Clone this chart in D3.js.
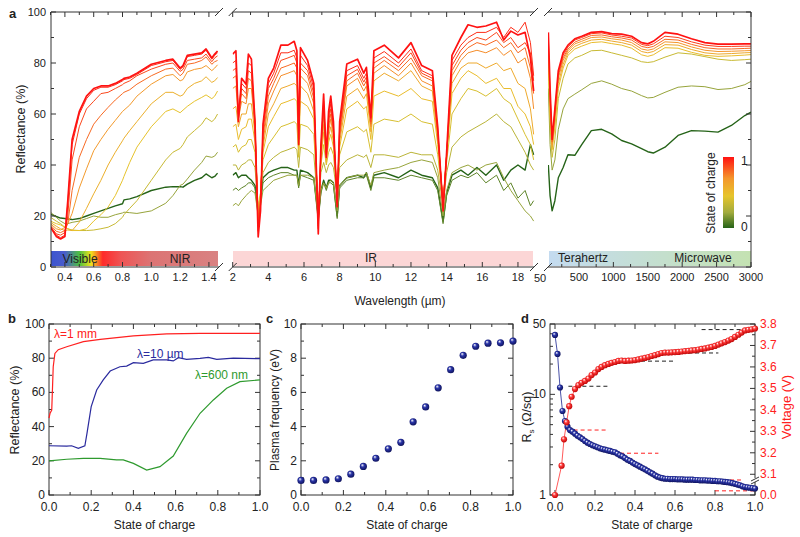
<!DOCTYPE html>
<html><head><meta charset="utf-8">
<script src="https://cdn.jsdelivr.net/npm/d3@7"></script>
<style>body{margin:0;background:#fff} text{font-family:"Liberation Sans",Arial,sans-serif;fill:#222}</style>
</head><body><svg id="c" width="800" height="537"></svg>
<script>
// ---------------- DATA ----------------
// Panel a: visible / NIR (wavelength in µm, reflectance in %)
const visWl = [0.30,0.34,0.37,0.40,0.42,0.45,0.50,0.55,0.60,0.65,0.70,0.75,0.80,0.81,0.85,0.90,1.00,1.10,1.15,1.20,1.22,1.25,1.30,1.35,1.38,1.42,1.44,1.46];
const visSoc = [0, 0.2, 0.35, 0.46, 0.56, 0.68, 0.8, 0.88, 0.95, 1];
const visR = [
 [20.8,19.8,19.2,19,18.8,18.6,19,20,21,22,23,24,24.8,26.3,26.7,27.6,30,31.3,31.5,31.5,31.3,32.5,34,35,36.5,35,35.5,36.8],
 [21.5,19.5,18,17,17,17.5,18,19,20,19.5,19.5,20.5,21.2,21.5,21.3,21,22,25,28,32,32.5,34.5,38,41,43.5,43,43.5,45],
 [19.5,18,17,15.6,15,14.5,14.3,14.3,14.5,15,15.6,17,19.5,20.5,23,26,34,42,45,46.5,48,51,53.5,56,58.5,57,58,60],
 [18,17,16.5,15.6,15,14.3,14.3,15,18,20.5,23.5,28,34,35.5,41,47,55,61,62,60.5,61.5,63,65,66.5,67.5,66,67,69],
 [17.5,16,15,14.3,14.5,14.3,17.6,23,28.7,34,40,45,49.5,50.5,53.5,57,64,68.5,68.5,67,67.5,70,72,73,74.6,72.4,73,74.3],
 [17,15,14.5,15.6,17,21,31,38.5,45.6,50,54,57.5,61,61.5,63.5,67,71.7,75,75.5,73,73.5,76.5,77.5,78,79,77,78,79.3],
 [16.5,14,13.5,14.3,17,30,43,50,56,59.5,62.6,65.5,68,68.5,69.5,71.7,75,77.6,78,75,76,79.5,80,81,82.4,79.5,80.5,81],
 [16,13,12.5,13.5,20,42,55,62,65,68,68.5,70,71.5,72,73,75,77.6,79.5,80,76.7,77.5,81,81.5,82,83.5,80.5,82,82.8],
 [15.5,12.5,11.5,12.5,25,48,60,66,69.3,70.5,70.5,71.5,73,73.5,74,75.5,79,80.5,81,77.5,78.5,82.5,83,83.5,85,81.5,83,84],
 [15.6,12,11,12,26,50,61,67,70,71,71,72,73.5,74,74.5,76,79.5,81,81.5,78,79,83,83.5,84,85.5,82,83.5,84.7]
];
// Panel a: IR (µm)
const irWl = [2.0,2.18,2.32,2.5,2.75,2.88,3.05,3.25,3.43,3.56,3.7,4.0,4.3,4.7,5.1,5.45,5.6,5.7,5.8,6.2,6.55,6.8,6.95,7.1,7.25,7.38,7.5,7.65,7.86,8.0,8.4,9.0,9.35,9.5,9.75,9.92,10.5,11.3,12.0,12.6,13.2,13.5,13.8,14.0,14.3,14.8,15.2,15.7,16.2,16.8,17.2,17.6,18.0,18.4,18.7,18.88];
const irSoc = [0, 0.1, 0.2, 0.3, 0.4, 0.5, 0.6, 0.72, 0.8, 0.88, 0.94, 1];
const irR = [
 [36,37,35,36,36,35,34,32,22,26,35,37,38,39,39,38,38,32,38,37,35,20,30,34,31,34,34,33,20,32,35,36,35,37,31,36,37,35,38,36,35,31,18,29,36,38,36,39,36,40,34,38,40,38,48,44],
 [30,31,30,31,32,33,33,31,20,25,33,35,36,37,37,36,36,31,36,35,34,18,29,33,30,33,33,32,19,31,34,35,35,36,30,35,35,34,36,35,34,30,17,28,34,36,35,37,33,36,30,33,27,30,24,26],
 [24,25,24,26,28,29,30,29,20,24,30,32,34,35,36,36,36,32,36,36,35,20,30,33,31,33,34,33,22,32,35,36,36,37,32,37,38,39,41,42,41,35,20,30,37,39,40,38,40,41,35,30,26,22,20,18],
 [40,40,38,40,41,42,42,39,23,28,37,41,43,45,46,47,46,39,47,46,44,22,37,41,37,40,41,39,28,39,42,44,43,44,39,44,44,43,45,44,44,38,24,37,47,51,53,55,57,60,57,55,50,45,40,38],
 [47,48,45,47,48,50,50,45,23,29,42,48,51,55,56,57,56,43,56,55,52,21,40,48,40,45,47,44,28,44,53,55,53,54,45,56,58,57,60,57,56,44,25,41,60,66,70,69,67,70,66,64,58,52,48,42],
 [55,56,50,54,55,58,58,49,22,29,45,55,59,64,65,66,65,46,65,63,58,20,42,53,41,49,52,47,28,47,62,65,62,63,50,67,69,67,70,66,65,48,25,43,68,74,77,75,72,74,70,70,63,60,55,48],
 [62,63,55,60,60,64,64,52,21,28,47,60,64,70,71,72,71,48,71,68,61,19,43,56,42,51,55,49,28,49,67,70,66,68,53,73,76,73,77,71,69,50,25,44,72,78,80,80,78,80,77,78,72,70,62,52],
 [70,71,58,65,64,70,70,54,19,27,49,64,69,75,76,77,75,49,75,72,64,18,44,59,43,53,58,51,28,51,71,74,69,71,55,76,79,75,80,73,71,51,25,44,75,81,84,85,84,86,83,85,80,82,74,62],
 [74,75,59,68,66,74,73,55,18,26,51,67,72,78,79,80,78,50,78,75,66,17,45,61,44,55,60,53,27,52,73,76,71,73,56,78,81,77,82,75,73,52,25,44,77,83,86,88,87,89,86,88,84,86,78,68],
 [77,78,60,70,68,77,76,56,16,25,53,70,74,81,82,83,80,50,80,77,68,16,46,63,44,57,62,54,26,54,75,77.5,72.5,74.5,57,80,82.5,78.5,84,76,74,53,24,44,79,85,88,90,89,92,88,90,86,88,84,73],
 [80,81,60,72,70,80,79,57,14,24,55,72,76,84,84,85,82,50,83,79,70,15,47,65,44,59,64,55,25,55,77,79,74,76,58,82,84.5,80,85.5,77,75,54,23,44,81,87,90,92,92,94,90,94,92,96,88,75],
 [83.5,84.8,57,74,71.7,83.5,81.5,57,11.8,22,56,74,78,87,87,88.5,84.8,48,86,81,72,13,48,67.8,43,61,67,57,23.6,57,79.6,81.5,76,78.3,58.7,84.8,87,82,88,79,77,55,22,45,83,90,95,94,94.5,96,89,92.5,91,92,82,69]
];
// Panel a: terahertz / microwave
const thzF = [55,80,110,150,200,270,340,440,540,680,830,975,1120,1265,1410,1500,1580,1750,1940,2135,2330,2520,2715,2910,3000];
const thzSoc = [0, 0.2, 0.35, 0.5, 0.6, 0.7, 0.8, 0.9, 1];
const thzR = [
 [40,28,22,26,35,39,44,43.8,48,53.5,54,52.2,49.6,48.3,46.4,45.2,44.7,47,51.6,53.5,53.3,52.9,55.5,59.4,60.7],
 [70,48,38,42,54,62,66,67.8,69.5,72,73,71.7,70,69,67.2,66.3,66.5,68.5,70.5,71,70.7,69.6,70,71.5,72.8],
 [78,55,43,50,66,74,79.6,82,83,84.8,85,84,83,82,80.5,80.2,80.5,82.3,84,83.5,82.5,81.5,81,81.3,81.5],
 [82,60,46,55,70,78,83,85.5,86.6,88,88.3,87.6,87,85.8,83.2,82.6,83.2,86,85.8,84.2,83,82.6,82.8,83.1,83.3],
 [84,62,47,57,72,79.5,84,86.5,87.7,89,89.3,88.6,88,87,84.5,84,84.5,87.2,87,85.3,84,83.5,83.7,84,84.1],
 [86,64,48,59,74,81,84.8,87.5,88.5,90,90.2,89.5,89,88,85.5,85,85.5,88.3,88,86.3,85,84.5,84.6,84.8,84.9],
 [88,66,49,60,75,82,85.5,88.2,89.3,90.8,91,90.3,89.8,89,86.5,86,86.5,89.3,89,87.3,86,85.5,85.5,85.7,85.8],
 [90,68,50,61,76,83,86.3,89,90,91.5,91.8,91,90.5,89.8,87.3,86.8,87.5,90.5,90,88.3,87,86.5,86.5,86.6,86.6],
 [92,70,50,62,77,84,87,89.5,90.5,92,92.3,91.5,91.3,90.5,88,87.5,88.5,92,91.3,89.5,88,87.4,87.4,87.5,87.5]
];
const visTicks = [0.4,0.6,0.8,1.0,1.2,1.4];
const irTicks = [2,4,6,8,10,12,14,16,18];
const thzTicks = [500,1000,1500,2000,2500,3000];

// Panel b
const bRedSoc = [0,0.005,0.013,0.02,0.028,0.044,0.084,0.163,0.243,0.4,0.558,0.716,1.0];
const bRed = [45,47.8,49.7,75,82.8,85,86.7,89.7,91,93,94.2,94.5,94.5];
const bBlueSoc = [0,0.084,0.107,0.139,0.17,0.18,0.2,0.226,0.257,0.29,0.336,0.368,0.4,0.447,0.494,0.558,0.589,0.613,0.652,0.716,0.755,0.795,0.874,1.0];
const bBlue = [28.8,28.6,28.8,27.3,28.8,36,51.7,61.4,67.3,72.5,75,75.4,77.4,77,79,79,78.4,80.3,79.3,79.9,80.5,79.3,80.1,79.7];
const bGreenSoc = [0,0.084,0.163,0.242,0.32,0.352,0.4,0.463,0.526,0.589,0.652,0.716,0.779,0.842,0.905,1.0];
const bGreen = [20,20.9,21.4,21.4,20.5,20.5,18.5,14.6,16.6,22.8,36,47.8,55.6,62.4,66.3,67.3];

// Panel c
const cSoc = [0,0.059,0.118,0.176,0.235,0.294,0.353,0.412,0.471,0.529,0.588,0.647,0.706,0.765,0.824,0.882,0.941,1.0];
const cPlasma = [0.85,0.85,0.88,0.95,1.22,1.67,2.15,2.7,3.08,4.28,5.15,6.27,7.33,8.17,8.7,8.88,8.9,9.0];

// Panel d
const dSoc = [0,0.0125,0.025,0.0375,0.05,0.0625,0.075,0.0875,0.1,0.1125,0.125,0.1375,0.15,0.1625,0.175,0.1875,0.2,0.2125,0.225,0.2375,0.25,0.2625,0.275,0.2875,0.3,0.3125,0.325,0.3375,0.35,0.3625,0.375,0.3875,0.4,0.4125,0.425,0.4375,0.45,0.4625,0.475,0.4875,0.5,0.5125,0.525,0.5375,0.55,0.5625,0.575,0.5875,0.6,0.6125,0.625,0.6375,0.65,0.6625,0.675,0.6875,0.7,0.7125,0.725,0.7375,0.75,0.7625,0.775,0.7875,0.8,0.8125,0.825,0.8375,0.85,0.8625,0.875,0.8875,0.9,0.9125,0.925,0.9375,0.95,0.9625,0.975,0.9875,1.0];
const dRs = [38.9,25.2,11.7,6.83,5.43,4.77,4.42,4.26,4.07,3.88,3.74,3.60,3.44,3.31,3.21,3.12,3.05,2.98,2.91,2.86,2.82,2.78,2.74,2.69,2.66,2.57,2.48,2.42,2.33,2.24,2.18,2.10,2.03,1.97,1.91,1.85,1.80,1.74,1.68,1.63,1.57,1.52,1.49,1.47,1.45,1.45,1.44,1.44,1.44,1.43,1.43,1.43,1.42,1.42,1.42,1.42,1.41,1.41,1.40,1.40,1.40,1.39,1.39,1.38,1.38,1.37,1.37,1.36,1.35,1.34,1.33,1.31,1.29,1.27,1.25,1.22,1.20,1.19,1.18,1.17,1.16];
const dVSoc = [0,0.033,0.045,0.058,0.071,0.083,0.100,0.117,0.133,0.150,0.167,0.183,0.200,0.217,0.233,0.250,0.267,0.283,0.300,0.317,0.333,0.350,0.367,0.383,0.400,0.417,0.433,0.450,0.467,0.483,0.500,0.517,0.533,0.550,0.567,0.583,0.600,0.617,0.633,0.650,0.667,0.683,0.700,0.717,0.733,0.750,0.767,0.783,0.800,0.817,0.833,0.850,0.867,0.883,0.900,0.917,0.933,0.950,0.967,0.983,1.000];
const dVolt = [0.0,3.14,3.263,3.342,3.417,3.461,3.497,3.515,3.526,3.535,3.546,3.562,3.574,3.590,3.600,3.608,3.614,3.619,3.623,3.628,3.630,3.628,3.629,3.630,3.632,3.635,3.639,3.642,3.646,3.651,3.655,3.660,3.665,3.667,3.667,3.668,3.669,3.670,3.672,3.674,3.675,3.677,3.678,3.681,3.684,3.686,3.690,3.693,3.698,3.704,3.710,3.716,3.723,3.730,3.740,3.750,3.760,3.770,3.773,3.775,3.779];
const vPlatStart = [0.067,0.325,0.525,0.733];
const vPlatEnd = [0.267,0.6,0.817,1.0];
const vPlatLevel = [3.51,3.627,3.665,3.774];
const rPlatStart = [0.058,0.325,0.525,0.8];
const rPlatEnd = [0.255,0.517,0.933,1.0];
const rPlatLevel = [4.42,2.6,1.41,1.1];
const voltTicks = [3.1,3.2,3.3,3.4,3.5,3.6,3.7,3.8];

// ---------------- DRAW ----------------
const svg = d3.select('#c');
const ink = '#333';
const defs = svg.append('defs');
const socColor = d3.scaleLinear().domain([0,0.22,0.45,0.7,1]).range(['#256318','#a2ab3e','#e6c52c','#f4962c','#ff1212']);

function grad(id, stops, vertical){
  const g = defs.append('linearGradient').attr('id',id);
  if(vertical) g.attr('x1','0').attr('y1','1').attr('x2','0').attr('y2','0');
  stops.forEach(s=>g.append('stop').attr('offset',s[0]).attr('stop-color',s[1]));
}
function sphere(id,c0,c1){
  const g = defs.append('radialGradient').attr('id',id).attr('cx','45%').attr('cy','45%').attr('r','60%').attr('fx','35%').attr('fy','30%');
  g.append('stop').attr('offset','0%').attr('stop-color','#fff');
  g.append('stop').attr('offset','40%').attr('stop-color',c0);
  g.append('stop').attr('offset','100%').attr('stop-color',c1);
}
sphere('sb','#2a35a8','#0b0f55');
sphere('sr','#ff3a3a','#b80000');
grad('visBand',[[0,'#3c55d0'],[0.08,'#4a5ccc'],[0.17,'#4cc040'],[0.24,'#f2e21c'],[0.31,'#ff2a2a'],[0.42,'#ee5555'],[0.6,'#dc7474'],[1,'#d98282']]);
grad('thzBand',[[0,'#c4dbf0'],[1,'#c4e2b2']]);
grad('cbar',[[0,'#256318'],[0.22,'#a2ab3e'],[0.45,'#e6c52c'],[0.7,'#f4962c'],[1,'#ff1212']], true);

function line(g,x1,y1,x2,y2,col,w,dash){
  const l = g.append('line').attr('x1',x1).attr('y1',y1).attr('x2',x2).attr('y2',y2).attr('stroke',col||ink).attr('stroke-width',w||1);
  if(dash) l.attr('stroke-dasharray',dash);
  return l;
}
function txt(g,x,y,s,opt){
  opt = opt||{};
  const t = g.append('text').attr('x',x).attr('y',y).text(s)
    .attr('font-size',opt.size||11).attr('text-anchor',opt.anchor||'middle');
  if(opt.fill) t.style('fill',opt.fill);
  if(opt.weight) t.attr('font-weight',opt.weight);
  if(opt.rot) t.attr('transform',`rotate(${opt.rot},${x},${y})`);
  return t;
}
function xTicks(g,sc,vals,y,dir,len){ vals.forEach(v=>line(g,sc(v),y,sc(v),y+dir*len)); }
function yTicks(g,sc,vals,x,dir,len){ vals.forEach(v=>line(g,x,sc(v),x+dir*len,sc(v))); }
function range(a,b,s){ const r=[]; for(let v=a; v<=b+1e-9; v+=s) r.push(+v.toFixed(6)); return r; }

// ===== Panel a =====
const A = svg.append('g');
const yTop=12, yBot=267;
const ya = d3.scaleLinear([0,100],[yBot,yTop]);
const xa1 = d3.scaleLinear([0.3,1.47],[50.5,219]);
const xa2 = d3.scaleLinear([2,18.9],[232.7,534]);
const xa3 = d3.scaleLinear([50,3000],[548,751]);

// bands
A.append('rect').attr('x',51).attr('y',251).attr('width',167).attr('height',15).attr('fill','url(#visBand)');
A.append('rect').attr('x',233).attr('y',251).attr('width',300).attr('height',15).attr('fill','#fcd6d6');
A.append('rect').attr('x',549).attr('y',251).attr('width',202).attr('height',15).attr('fill','url(#thzBand)');
txt(A,80,263,'Visible',{size:12});
txt(A,180,263,'NIR',{size:12});
txt(A,371,262,'IR',{size:12});
txt(A,583,262,'Terahertz',{size:12});
txt(A,703,262,'Microwave',{size:12});

function drawSet(xs, wl, soc, rows, id, x0, x1){
  const cp = defs.append('clipPath').attr('id',id);
  cp.append('rect').attr('x',x0).attr('y',yTop).attr('width',x1-x0).attr('height',yBot-yTop);
  const g = A.append('g').attr('clip-path',`url(#${id})`);
  const gen = d3.line().x(d=>xs(d[0])).y(d=>ya(d[1]));
  rows.forEach((r,i)=>{
    const pts = wl.map((w,j)=>[w,r[j]]).filter(p=>p[1]!==undefined);
    const s = soc[i];
    g.append('path').attr('d',gen(pts)).attr('fill','none')
      .attr('stroke',socColor(s))
      .attr('stroke-width', s===1?1.7:(s===0?1.4:1))
      .attr('stroke-linejoin','round');
  });
}
drawSet(xa1, visWl, visSoc, visR, 'cp1', 51, 219);
drawSet(xa2, irWl, irSoc, irR, 'cp2', 232.7, 535);
drawSet(xa3, thzF, thzSoc, thzR, 'cp3', 548, 751);

// frame
line(A,51,yTop,51,yBot); line(A,751,yTop,751,yBot);
[[51,219],[232.7,534],[548,751]].forEach(s=>{ line(A,s[0],yTop,s[1],yTop); line(A,s[0],yBot,s[1],yBot); });
// break marks
[219,232.7,534,548].forEach(x=>{ [yTop,yBot].forEach(y=>line(A,x-4,y+4,x+4,y-4)); });
// y ticks
yTicks(A,ya,range(0,100,20),51,1,5); yTicks(A,ya,range(10,90,20),51,1,3);
yTicks(A,ya,range(0,100,20),751,-1,5); yTicks(A,ya,range(10,90,20),751,-1,3);
range(0,100,20).forEach(v=>txt(A,46,ya(v)+4,String(v),{anchor:'end'}));
// x ticks
[[xa1,visTicks,[0.3,0.5,0.7,0.9,1.1,1.3]],[xa2,irTicks,[3,5,7,9,11,13,15,17]],[xa3,thzTicks,[250,750,1250,1750,2250,2750]]].forEach(a=>{
  xTicks(A,a[0],a[1],yBot,-1,5); xTicks(A,a[0],a[2],yBot,-1,3);
  xTicks(A,a[0],a[1],yTop,1,5); xTicks(A,a[0],a[2],yTop,1,3);
});
visTicks.forEach(v=>txt(A,xa1(v),281,v.toFixed(1)));
irTicks.forEach(v=>txt(A,xa2(v),281,String(v)));
thzTicks.forEach(v=>txt(A,xa3(v),281,String(v)));
txt(A,540,282,'50');
txt(A,400,305,'Wavelength (\u00b5m)',{size:12});
txt(A,25,129,'Reflectance (%)',{size:12.5,rot:-90});
txt(A,9,18,'a',{size:13,weight:'bold',anchor:'start'});

// colorbar legend
A.append('rect').attr('x',723).attr('y',157).attr('width',11).attr('height',71).attr('fill','url(#cbar)');
txt(A,741,165,'1',{size:12,anchor:'start'});
txt(A,741,231,'0',{size:12,anchor:'start'});
txt(A,715,193,'State of charge',{size:12,rot:-90});

// ===== Panel b/c/d helpers =====
const pTop=324, pBot=495;
function frame(g,x0,x1){
  g.append('rect').attr('x',x0).attr('y',pTop).attr('width',x1-x0).attr('height',pBot-pTop).attr('fill','none').attr('stroke',ink);
}
const socMaj = [0,0.2,0.4,0.6,0.8,1.0], socMin=[0.1,0.3,0.5,0.7,0.9];
function socAxis(g,xs){
  xTicks(g,xs,socMaj,pBot,-1,5); xTicks(g,xs,socMin,pBot,-1,3);
  xTicks(g,xs,socMaj,pTop,1,5); xTicks(g,xs,socMin,pTop,1,3);
  socMaj.forEach(v=>txt(g,xs(v),511,v.toFixed(1),{size:12}));
  txt(g,(xs(0)+xs(1))/2,529,'State of charge',{size:12});
}

// ===== Panel b =====
const B = svg.append('g');
const xb = d3.scaleLinear([0,1],[49,260]);
const yb = d3.scaleLinear([0,100],[pBot,pTop]);
frame(B,49,260);
socAxis(B,xb);
yTicks(B,yb,range(0,100,20),49,1,5); yTicks(B,yb,range(10,90,20),49,1,3);
yTicks(B,yb,range(0,100,20),260,-1,5); yTicks(B,yb,range(10,90,20),260,-1,3);
range(0,100,20).forEach(v=>txt(B,45,yb(v)+4,String(v),{anchor:'end',size:12}));
const lb = (xs)=>d3.line().x((d,i)=>xb(xs[i])).y(d=>yb(d));
B.append('path').attr('d',lb(bGreenSoc)(bGreen)).attr('fill','none').attr('stroke','#2e9a2e').attr('stroke-width',1.2);
B.append('path').attr('d',lb(bBlueSoc)(bBlue)).attr('fill','none').attr('stroke','#2a2a9e').attr('stroke-width',1.2);
B.append('path').attr('d',lb(bRedSoc)(bRed)).attr('fill','none').attr('stroke','#ff2020').attr('stroke-width',1.2);
txt(B,54,338,'\u03bb=1 mm',{size:12,anchor:'start',fill:'#ff2020'});
txt(B,137,358,'\u03bb=10 \u00b5m',{size:12,anchor:'start',fill:'#2a2a9e'});
txt(B,195,379,'\u03bb=600 nm',{size:12,anchor:'start',fill:'#2e9a2e'});
txt(B,19,410,'Reflectance (%)',{size:12.5,rot:-90});
txt(B,8,323,'b',{size:13,weight:'bold',anchor:'start'});

// ===== Panel c =====
const C = svg.append('g');
const xc = d3.scaleLinear([0,1],[301,513]);
const yc = d3.scaleLinear([0,10],[pBot,pTop]);
frame(C,301,513);
socAxis(C,xc);
yTicks(C,yc,range(0,10,2),301,1,5); yTicks(C,yc,range(1,9,2),301,1,3);
yTicks(C,yc,range(0,10,2),513,-1,5); yTicks(C,yc,range(1,9,2),513,-1,3);
range(0,10,2).forEach(v=>txt(C,297,yc(v)+4,String(v),{anchor:'end',size:12}));
C.selectAll('circle').data(cPlasma).join('circle')
  .attr('cx',(d,i)=>xc(cSoc[i])).attr('cy',d=>yc(d)).attr('r',3.6).attr('fill','url(#sb)');
txt(C,279,410,'Plasma frequency (eV)',{size:12,rot:-90});
txt(C,266,323,'c',{size:13,weight:'bold',anchor:'start'});

// ===== Panel d =====
const D = svg.append('g');
const xd = d3.scaleLinear([-0.025,1],[550,755]);
const yd = d3.scaleLog([1,50],[pBot,pTop]);
const yv = d3.scaleLinear([0,3.05,3.8],[pBot,485,pTop]);
frame(D,550,755);
xTicks(D,xd,socMaj,pBot,-1,5); xTicks(D,xd,socMin,pBot,-1,3);
xTicks(D,xd,socMaj,pTop,1,5); xTicks(D,xd,socMin,pTop,1,3);
socMaj.forEach(v=>txt(D,xd(v),511,v.toFixed(1),{size:12}));
txt(D,652,529,'State of charge',{size:12});
yTicks(D,yd,[1,10,50],550,1,5); yTicks(D,yd,[2,3,4,5,6,7,8,9,20,30,40],550,1,3);
[1,10,50].forEach(v=>txt(D,546,yd(v)+4,String(v),{anchor:'end',size:12}));
yTicks(D,yv,voltTicks.concat([0]),755,-1,5);
yTicks(D,yv,[3.15,3.25,3.35,3.45,3.55,3.65,3.75],755,-1,3);
voltTicks.forEach(v=>txt(D,760,yv(v)+4,v.toFixed(1),{anchor:'start',size:12,fill:'#ff2020'}));
txt(D,760,yv(0)+4,'0.0',{anchor:'start',size:12,fill:'#ff2020'});
// axis break on right
D.append('rect').attr('x',751).attr('y',478).attr('width',8).attr('height',4).attr('fill','#fff');
line(D,751,481,759,477); line(D,751,484,759,480);
// dashed plateaus
vPlatLevel.forEach((v,i)=>line(D,xd(vPlatStart[i]),yv(v),xd(vPlatEnd[i]),yv(v),'#222',1,'4,3'));
rPlatLevel.forEach((v,i)=>line(D,xd(rPlatStart[i]),yd(v),xd(rPlatEnd[i]),yd(v),'#ff2020',1,'4,3'));
// series
D.append('path').attr('d',d3.line().x((d,i)=>xd(dVSoc[i])).y(d=>yv(d))(dVolt)).attr('fill','none').attr('stroke','#ff3030').attr('stroke-width',0.8);
D.append('path').attr('d',d3.line().x((d,i)=>xd(dSoc[i])).y(d=>yd(d))(dRs)).attr('fill','none').attr('stroke','#1a2590').attr('stroke-width',0.8);
D.append('g').selectAll('circle').data(dRs).join('circle')
  .attr('cx',(d,i)=>xd(dSoc[i])).attr('cy',d=>yd(d)).attr('r',3.1).attr('fill','url(#sb)');
D.append('g').selectAll('circle').data(dVolt).join('circle')
  .attr('cx',(d,i)=>xd(dVSoc[i])).attr('cy',d=>yv(d)).attr('r',3.1).attr('fill','url(#sr)');
const rs = D.append('text').attr('font-size',12.5).attr('text-anchor','middle')
  .attr('transform','translate(531,417) rotate(-90)');
rs.append('tspan').text('R');
rs.append('tspan').text('s').attr('font-size',8).attr('dy',3);
rs.append('tspan').text(' (\u03a9/sq)').attr('dy',-3);
txt(D,791,407,'Voltage (V)',{size:13,rot:-90,fill:'#ff2020'});
txt(D,521,323,'d',{size:13,weight:'bold',anchor:'start'});
</script></body></html>
